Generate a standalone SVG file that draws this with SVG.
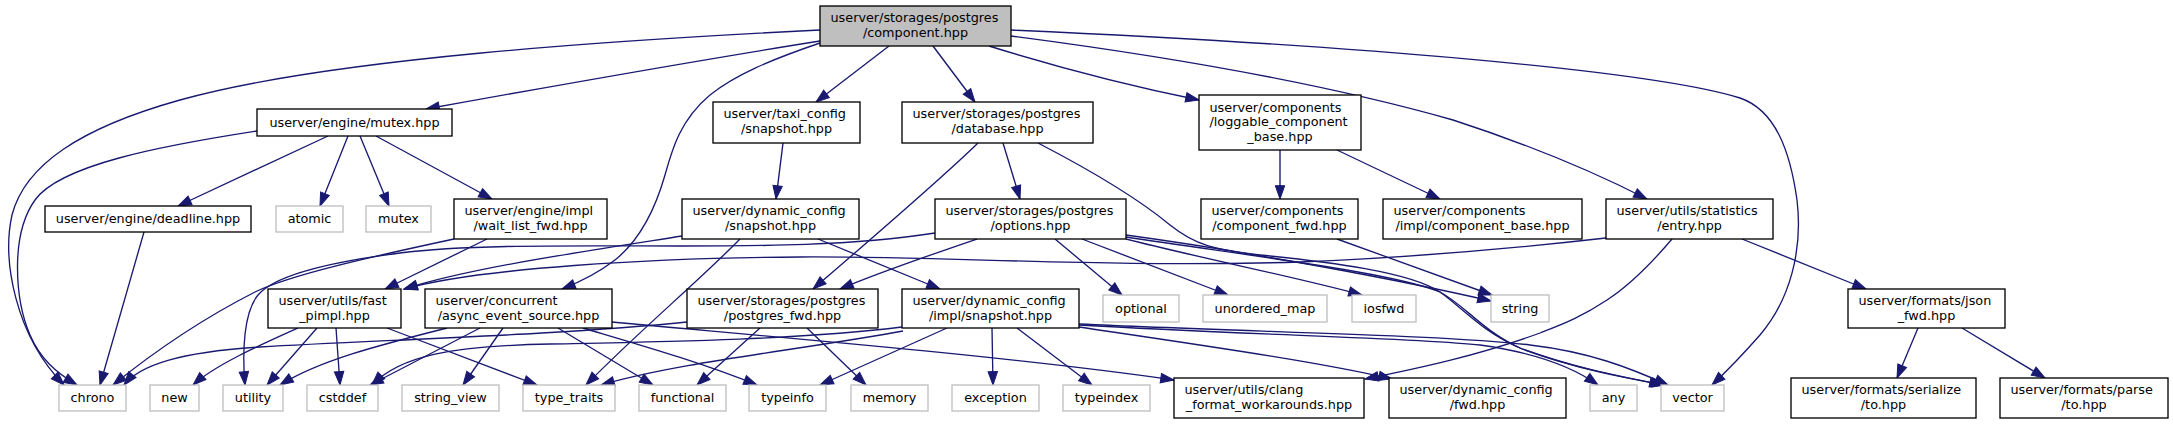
<svg xmlns="http://www.w3.org/2000/svg" width="2173" height="424" viewBox="0 0 2173 424">
<style>
.n rect{fill:#fff;stroke:#000;stroke-width:1.33}
.n.x rect{stroke:#bfbfbf}
.n.r rect{fill:#bfbfbf}
text{font-family:"DejaVu Sans","Liberation Sans",sans-serif;font-size:12.8px;fill:#000}
.m{text-anchor:middle}
#edges path{fill:none;stroke:#191970;stroke-width:1.33;marker-end:url(#a)}
</style>
<defs>
<marker id="a" markerUnits="userSpaceOnUse" markerWidth="14" markerHeight="10" viewBox="0 0 14 10" refX="13.3" refY="5" orient="auto" overflow="visible">
<path d="M0,0.3 L13.3,5 L0,9.7 z" fill="#191970" stroke="#191970" stroke-width="1"/>
</marker>
</defs>
<rect width="2173" height="424" fill="#fff"/>
<g id="edges">
<path d="M820,30 C620,40 330,58 180,100 C80,128 25,165 12,215 C2,260 15,335 64,385"/>
<path d="M820,41 C700,60 520,92 426,109"/>
<path d="M820,43 C770,60 735,75 710,95 C680,120 672,150 665,175 C655,210 640,240 615,260 C598,273 580,282 562,289"/>
<path d="M889,46 L816,102"/>
<path d="M933,46 L975,102"/>
<path d="M989,46 C1060,68 1140,88 1199,100"/>
<path d="M1011,36 C1180,58 1330,85 1453,120 C1530,145 1600,175 1647,199"/>
<path d="M1011,30 C1350,45 1650,70 1740,98 C1775,110 1790,150 1797,200 C1803,250 1790,300 1760,335 C1745,352 1728,370 1712,385"/>
<path d="M257,131 C160,146 60,165 35,200 C10,235 15,300 30,335 C40,358 55,372 77,385"/>
<path d="M328,136 L178,206"/>
<path d="M348,136 L320,206"/>
<path d="M360,136 L389,206"/>
<path d="M376,136 L492,199"/>
<path d="M144,232 L100,385"/>
<path d="M487,239 L385,289"/>
<path d="M454,239 C370,257 290,275 255,292 C200,320 150,355 113,385"/>
<path d="M935,233 C850,246 760,246 680,246 C580,246 470,244 400,253 C330,262 275,275 258,295 C244,312 242,350 245,385"/>
<path d="M783,143 L776,199"/>
<path d="M682,236 C580,252 470,268 404,289"/>
<path d="M818,239 L940,289"/>
<path d="M740,239 C700,280 640,330 586,385"/>
<path d="M978,143 C940,180 870,240 813,289"/>
<path d="M1003,143 L1020,199"/>
<path d="M1038,143 C1090,170 1140,200 1170,225 C1195,245 1215,250 1260,255 C1330,262 1410,272 1440,292 C1465,310 1480,330 1520,348 C1580,370 1630,378 1663,385"/>
<path d="M977,239 C930,255 880,272 840,289"/>
<path d="M1055,239 L1122,295"/>
<path d="M1082,239 L1228,295"/>
<path d="M1126,239 C1200,258 1300,278 1362,295"/>
<path d="M1126,235 C1250,252 1400,280 1491,301"/>
<path d="M1126,237 C1250,256 1390,272 1440,292 C1466,306 1482,331 1522,349 C1582,371 1632,379 1665,385"/>
<path d="M1280,150 L1280,199"/>
<path d="M1337,150 L1440,199"/>
<path d="M1337,239 L1492,295"/>
<path d="M1606,238 C1500,250 1400,258 1300,262 C1100,268 950,256 800,257 C650,258 480,268 404,289"/>
<path d="M1672,239 C1650,265 1630,285 1607,300 C1580,318 1560,325 1540,333 C1480,355 1420,368 1365,379"/>
<path d="M1742,239 L1866,289"/>
<path d="M1918,328 L1897,378"/>
<path d="M1962,328 L2045,378"/>
<path d="M298,328 C260,345 215,365 193,385"/>
<path d="M317,328 L267,385"/>
<path d="M336,328 L340,385"/>
<path d="M387,328 L537,385"/>
<path d="M447,328 C380,345 320,360 280,385"/>
<path d="M480,328 L370,385"/>
<path d="M503,328 L463,385"/>
<path d="M558,328 L653,385"/>
<path d="M583,328 C640,345 700,362 757,385"/>
<path d="M612,322 C750,335 1000,355 1174,380"/>
<path d="M687,322 C560,335 380,340 260,347 C180,352 140,365 124,385"/>
<path d="M760,328 L697,385"/>
<path d="M807,328 L866,385"/>
<path d="M902,327 C800,340 650,342 550,344 C450,346 400,356 372,385"/>
<path d="M903,331 C800,350 680,362 601,385"/>
<path d="M947,328 L820,385"/>
<path d="M992,328 L993,385"/>
<path d="M1017,328 L1092,385"/>
<path d="M1079,327 C1200,345 1320,362 1392,379"/>
<path d="M1079,325 C1250,335 1420,338 1480,345 C1530,352 1570,365 1598,385"/>
<path d="M1079,324 C1250,332 1450,335 1530,345 C1590,352 1630,368 1668,385"/>
</g>
<g id="comp" class="n r"><rect x="820" y="6" width="191" height="40"/><text x="830.5" y="22.3">userver/storages/postgres</text><text class="m" x="915.5" y="36.7">/component.hpp</text></g>
<g id="mutex" class="n"><rect x="257" y="109" width="195" height="27"/><text class="m" x="354.5" y="126.5">userver/engine/mutex.hpp</text></g>
<g id="taxi" class="n"><rect x="713" y="102" width="147" height="41"/><text x="723.5" y="118.3">userver/taxi_config</text><text class="m" x="786.5" y="132.7">/snapshot.hpp</text></g>
<g id="database" class="n"><rect x="902" y="102" width="191" height="41"/><text x="912.5" y="118.3">userver/storages/postgres</text><text class="m" x="997.5" y="132.7">/database.hpp</text></g>
<g id="loggable" class="n"><rect x="1199" y="95" width="162" height="55"/><text x="1209.5" y="111.5">userver/components</text><text x="1209.5" y="126">/loggable_component</text><text class="m" x="1280" y="140.5">_base.hpp</text></g>
<g id="deadline" class="n"><rect x="45" y="206" width="206" height="26"/><text class="m" x="148" y="223">userver/engine/deadline.hpp</text></g>
<g id="atomic" class="n x"><rect x="276" y="206" width="67" height="26"/><text class="m" x="309.5" y="223">atomic</text></g>
<g id="mutexstd" class="n x"><rect x="366" y="206" width="65" height="26"/><text class="m" x="398.5" y="223">mutex</text></g>
<g id="waitlist" class="n"><rect x="454" y="199" width="153" height="40"/><text x="464.5" y="215.3">userver/engine/impl</text><text class="m" x="530.5" y="229.7">/wait_list_fwd.hpp</text></g>
<g id="dcsnap" class="n"><rect x="682" y="199" width="177" height="40"/><text x="692.5" y="215.3">userver/dynamic_config</text><text class="m" x="770.5" y="229.7">/snapshot.hpp</text></g>
<g id="options" class="n"><rect x="935" y="199" width="191" height="40"/><text x="945.5" y="215.3">userver/storages/postgres</text><text class="m" x="1030.5" y="229.7">/options.hpp</text></g>
<g id="compfwd" class="n"><rect x="1201" y="199" width="157" height="40"/><text x="1211.5" y="215.3">userver/components</text><text class="m" x="1279.5" y="229.7">/component_fwd.hpp</text></g>
<g id="compbase" class="n"><rect x="1383" y="199" width="199" height="40"/><text x="1393.5" y="215.3">userver/components</text><text class="m" x="1482.5" y="229.7">/impl/component_base.hpp</text></g>
<g id="entry" class="n"><rect x="1606" y="199" width="167" height="40"/><text x="1616.5" y="215.3">userver/utils/statistics</text><text class="m" x="1689.5" y="229.7">/entry.hpp</text></g>
<g id="fastpimpl" class="n"><rect x="268" y="289" width="133" height="39"/><text x="278.5" y="305.3">userver/utils/fast</text><text class="m" x="334.5" y="319.7">_pimpl.hpp</text></g>
<g id="async" class="n"><rect x="425" y="289" width="187" height="39"/><text x="435.5" y="305.3">userver/concurrent</text><text class="m" x="518.5" y="319.7">/async_event_source.hpp</text></g>
<g id="pgfwd" class="n"><rect x="687" y="289" width="191" height="39"/><text x="697.5" y="305.3">userver/storages/postgres</text><text class="m" x="782.5" y="319.7">/postgres_fwd.hpp</text></g>
<g id="implsnap" class="n"><rect x="902" y="289" width="177" height="39"/><text x="912.5" y="305.3">userver/dynamic_config</text><text class="m" x="990.5" y="319.7">/impl/snapshot.hpp</text></g>
<g id="optional" class="n x"><rect x="1103" y="295" width="76" height="27"/><text class="m" x="1141" y="312.5">optional</text></g>
<g id="umap" class="n x"><rect x="1203" y="295" width="124" height="27"/><text class="m" x="1265" y="312.5">unordered_map</text></g>
<g id="iosfwd" class="n x"><rect x="1352" y="295" width="64" height="27"/><text class="m" x="1384" y="312.5">iosfwd</text></g>
<g id="string" class="n x"><rect x="1491" y="295" width="58" height="27"/><text class="m" x="1520" y="312.5">string</text></g>
<g id="jsonfwd" class="n"><rect x="1848" y="289" width="157" height="39"/><text x="1858.5" y="305.3">userver/formats/json</text><text class="m" x="1926.5" y="319.7">_fwd.hpp</text></g>
<g id="chrono" class="n x"><rect x="59" y="385" width="67" height="26"/><text class="m" x="92.5" y="402">chrono</text></g>
<g id="new" class="n x"><rect x="150" y="385" width="49" height="26"/><text class="m" x="174.5" y="402">new</text></g>
<g id="utility" class="n x"><rect x="223" y="385" width="60" height="26"/><text class="m" x="253" y="402">utility</text></g>
<g id="cstddef" class="n x"><rect x="307" y="385" width="71" height="26"/><text class="m" x="342.5" y="402">cstddef</text></g>
<g id="stringview" class="n x"><rect x="402" y="385" width="97" height="26"/><text class="m" x="450.5" y="402">string_view</text></g>
<g id="typetraits" class="n x"><rect x="523" y="385" width="92" height="26"/><text class="m" x="569" y="402">type_traits</text></g>
<g id="functional" class="n x"><rect x="639" y="385" width="87" height="26"/><text class="m" x="682.5" y="402">functional</text></g>
<g id="typeinfo" class="n x"><rect x="749" y="385" width="77" height="26"/><text class="m" x="787.5" y="402">typeinfo</text></g>
<g id="memory" class="n x"><rect x="851" y="385" width="77" height="26"/><text class="m" x="889.5" y="402">memory</text></g>
<g id="exception" class="n x"><rect x="952" y="385" width="87" height="26"/><text class="m" x="995.5" y="402">exception</text></g>
<g id="typeindex" class="n x"><rect x="1063" y="385" width="87" height="26"/><text class="m" x="1106.5" y="402">typeindex</text></g>
<g id="clang" class="n"><rect x="1174" y="378" width="190" height="40"/><text x="1184.5" y="394.3">userver/utils/clang</text><text class="m" x="1269" y="408.7">_format_workarounds.hpp</text></g>
<g id="dcfwd" class="n"><rect x="1389" y="378" width="177" height="40"/><text x="1399.5" y="394.3">userver/dynamic_config</text><text class="m" x="1477.5" y="408.7">/fwd.hpp</text></g>
<g id="any" class="n x"><rect x="1590" y="385" width="47" height="26"/><text class="m" x="1613.5" y="402">any</text></g>
<g id="vector" class="n x"><rect x="1661" y="385" width="63" height="26"/><text class="m" x="1692.5" y="402">vector</text></g>
<g id="serialize" class="n"><rect x="1791" y="378" width="185" height="40"/><text x="1801.5" y="394.3">userver/formats/serialize</text><text class="m" x="1883.5" y="408.7">/to.hpp</text></g>
<g id="parse" class="n"><rect x="2000" y="378" width="168" height="40"/><text x="2010.5" y="394.3">userver/formats/parse</text><text class="m" x="2084" y="408.7">/to.hpp</text></g>
</svg>
